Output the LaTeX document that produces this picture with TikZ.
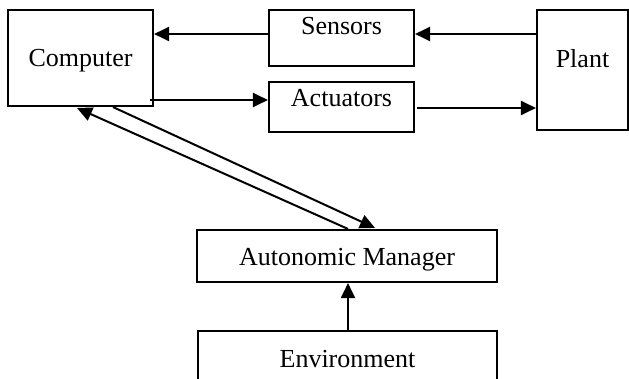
\documentclass[tikz,border=0pt]{standalone}
\usepackage{fontspec}
\setmainfont{Liberation Serif}
\usetikzlibrary{arrows.meta,calc}
\begin{document}
\begin{tikzpicture}[x=1pt,y=-1pt,
  box/.style={draw=black,line width=2.1pt,minimum width=#1,inner sep=0pt,fill=none},
  lbl/.style={anchor=base,inner sep=0pt,font=\fontsize{26}{30}\selectfont},
  arr/.style={line width=2pt,-{Triangle[length=15pt,width=14pt]}}]
\useasboundingbox (0,0) rectangle (629,379);
\clip (0,0) rectangle (629,379);
% boxes
\node[box=145pt,minimum height=96pt] (comp) at (80.5,58) {};
\node[box=145pt,minimum height=56pt] (sens) at (341.5,38) {};
\node[box=145pt,minimum height=50pt] (act) at (341.5,107) {};
\node[box=91pt,minimum height=120pt] (plant) at (582.5,70) {};
\node[box=300pt,minimum height=52pt] (am) at (347,256) {};
\node[box=299pt,minimum height=80pt] (env) at (347.5,371) {};
% labels
\node[lbl] (tcomp) at (80.5,67) {Computer};
\node[lbl] (tsens) at (341.5,35) {Sensors};
\node[lbl] (tact) at (341.5,107) {Actuators};
\node[lbl] (tplant) at (582.5,68) {Plant};
\node[lbl] (tam) at (347,266) {Autonomic Manager};
\node[lbl] (tenv) at (347.5,367) {Environment};
% connectors
\draw[arr] (plant.west |- 0,34) -- (sens.east |- 0,34);
\draw[arr] (sens.west |- 0,34) -- (comp.east |- 0,34);
\draw[arr] ([xshift=-4pt]comp.east |- 0,100) -- (act.west |- 0,100);
\draw[arr] ([xshift=2pt]act.east |- 0,108) -- (plant.west |- 0,108);
\draw[arr] (env.north -| 348,0) -- (am.south -| 348,0);
\draw[arr] (am.north -| 348,0) -- (77,108);
\draw[arr] (comp.south -| 113,0) -- ($(am.north -| 375,0)+(0,-1)$);
\end{tikzpicture}
\end{document}
